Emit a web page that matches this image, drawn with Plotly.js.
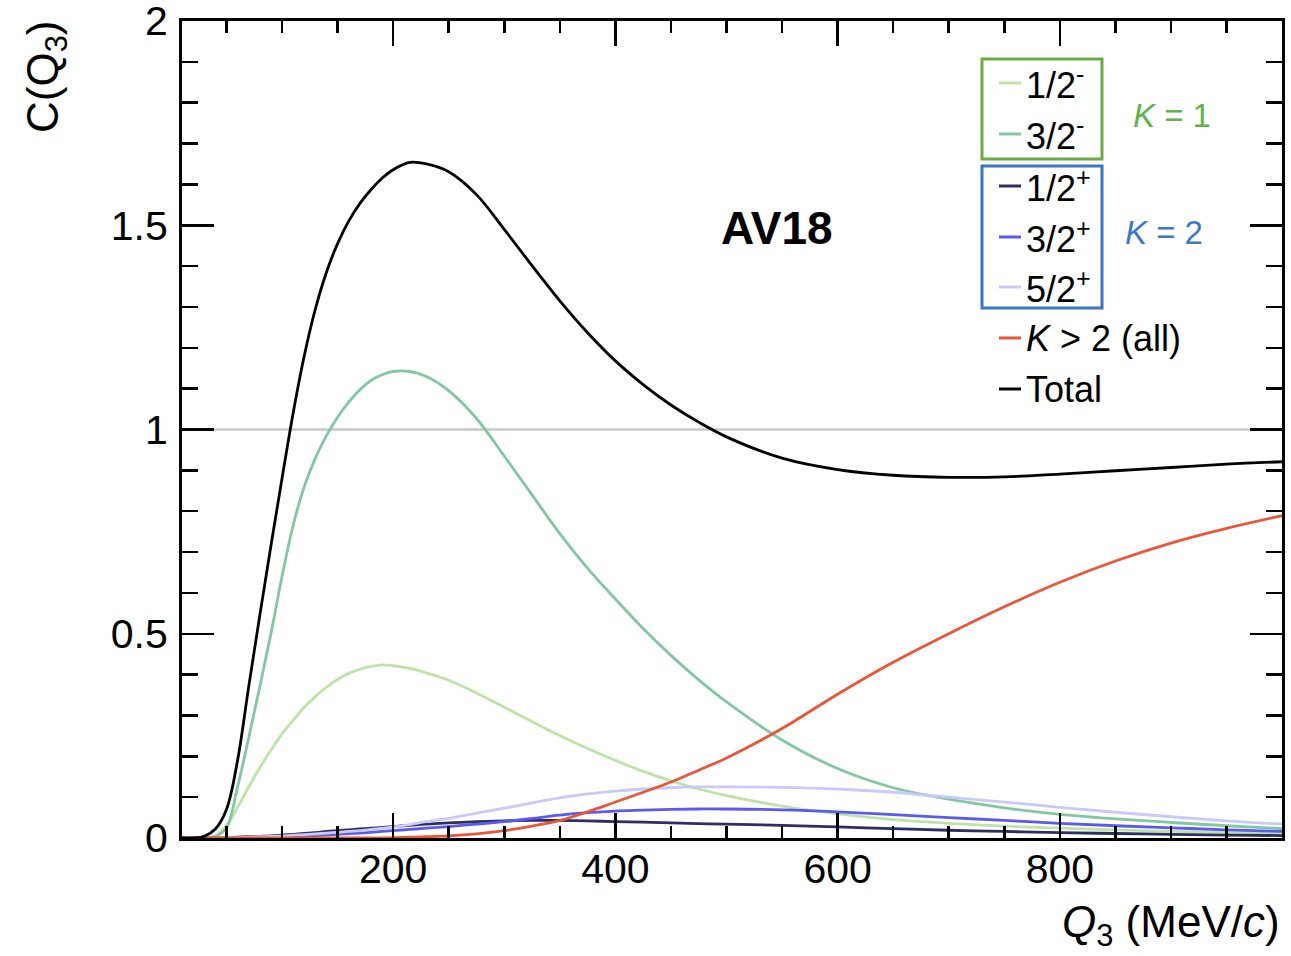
<!DOCTYPE html>
<html>
<head>
<meta charset="utf-8">
<script src="https://cdn.plot.ly/plotly-3.0.1.min.js"></script>
<style>html,body{margin:0;padding:0;background:#fff;}</style>
</head>
<body>
<div id="chart" style="width:1291px;height:956px;"></div>
<script>
// Q3 grid (MeV/c)
const q3 = [10,20,30,40,50,60,70,80,90,100,110,120,130,140,150,160,170,180,190,200,215,230,250,275,300,325,350,375,400,425,450,475,500,550,600,650,700,750,800,850,900,950,1000];

const half_minus = [0,0,0,0.004,0.03,0.075,0.125,0.172,0.215,0.255,0.288,0.32,0.346,0.369,0.388,0.403,0.413,0.42,0.424,0.422,0.415,0.404,0.386,0.355,0.32,0.285,0.251,0.219,0.19,0.163,0.14,0.12,0.104,0.078,0.059,0.045,0.036,0.029,0.024,0.02,0.016,0.013,0.011];

const threehalf_minus = [0,0,0,0.004,0.025,0.125,0.245,0.37,0.5,0.64,0.765,0.86,0.93,0.985,1.03,1.067,1.097,1.12,1.134,1.142,1.142,1.13,1.095,1.027,0.935,0.84,0.745,0.66,0.585,0.513,0.447,0.387,0.333,0.24,0.17,0.123,0.095,0.074,0.058,0.047,0.038,0.03,0.023];

const half_plus = [0,0,0,0,0.001,0.002,0.003,0.004,0.005,0.007,0.009,0.011,0.013,0.016,0.018,0.02,0.022,0.024,0.026,0.028,0.031,0.034,0.037,0.04,0.042,0.043,0.043,0.042,0.04,0.039,0.037,0.035,0.034,0.031,0.027,0.023,0.019,0.016,0.013,0.011,0.009,0.007,0.006];

const threehalf_plus = [0,0,0,0,0,0.001,0.001,0.002,0.002,0.003,0.004,0.005,0.006,0.008,0.009,0.011,0.012,0.014,0.016,0.018,0.021,0.024,0.028,0.034,0.04,0.048,0.056,0.062,0.066,0.068,0.07,0.071,0.071,0.069,0.064,0.057,0.05,0.043,0.036,0.03,0.025,0.02,0.016];

const fivehalf_plus = [0,0,0,0,0.001,0.001,0.002,0.003,0.004,0.005,0.007,0.008,0.01,0.012,0.014,0.016,0.018,0.021,0.024,0.027,0.033,0.04,0.048,0.061,0.073,0.086,0.098,0.108,0.115,0.12,0.123,0.125,0.125,0.124,0.12,0.112,0.1,0.088,0.075,0.063,0.052,0.042,0.034];

const k_gt2 = [0,0,0,0,0,0,0,0,0,0,0,0,0,0,0,0,0,0,0,0.001,0.002,0.003,0.005,0.01,0.018,0.029,0.043,0.064,0.088,0.112,0.137,0.166,0.196,0.268,0.352,0.43,0.5,0.566,0.626,0.678,0.722,0.758,0.789];

const total = [0,0,0.004,0.022,0.07,0.19,0.37,0.545,0.715,0.88,1.04,1.18,1.295,1.385,1.455,1.51,1.553,1.587,1.615,1.636,1.654,1.65,1.631,1.575,1.49,1.401,1.315,1.237,1.168,1.11,1.06,1.018,0.982,0.93,0.902,0.888,0.883,0.884,0.891,0.899,0.907,0.915,0.921];

const seriesNames = ['1/2<sup>-</sup>','3/2<sup>-</sup>','1/2<sup>+</sup>','3/2<sup>+</sup>','5/2<sup>+</sup>','<i>K</i> > 2 (all)','Total'];
const seriesData = [half_minus, threehalf_minus, half_plus, threehalf_plus, fivehalf_plus, k_gt2, total];
const seriesColors = ['#bde4a6','#83c7a2','#2e2e62','#5a5af2','#c9c9fa','#ea5638','#000000'];

const xTickStep = 200, xMinor = 50, yTickStep = 0.5, yMinor = 0.1;

const traces = seriesData.map((d,i)=>({
  x: q3, y: d, type:'scatter', mode:'lines', name: seriesNames[i],
  line:{color: seriesColors[i], width: 2.8, shape:'spline', smoothing:1},
  hoverinfo:'skip'
}));

// plot area pixel geometry (for paper-coordinate placement of legend items)
const L=182, R=9, T=21, B=118, W=1291, H=956;
const pw = W-L-R, ph = H-T-B;
const px2x = p => (p - L)/pw;
const py2y = p => (H - B - p)/ph;

const legendY = [83, 134, 186, 237, 287, 338, 389];
const annotations = [];
const shapes = [];

// reference line at C = 1
shapes.push({type:'line', xref:'paper', x0:0, x1:1, yref:'y', y0:1, y1:1, line:{color:'#c8c8c8', width:2.5}, layer:'below'});

seriesNames.forEach((n,i)=>{
  shapes.push({type:'line', xref:'paper', yref:'paper', x0:px2x(999), x1:px2x(1021), y0:py2y(legendY[i]), y1:py2y(legendY[i]), line:{color:seriesColors[i], width:3}});
  annotations.push({xref:'paper', yref:'paper', x:px2x(1024), y:py2y(legendY[i]), xanchor:'left', yanchor:'middle', text:n, showarrow:false, font:{size:36, color:'black', family:'Liberation Sans, Arial, sans-serif'}});
});

// group boxes
shapes.push({type:'rect', xref:'paper', yref:'paper', x0:px2x(982), x1:px2x(1102), y0:py2y(159), y1:py2y(59), line:{color:'#6aab45', width:3}});
shapes.push({type:'rect', xref:'paper', yref:'paper', x0:px2x(982), x1:px2x(1102), y0:py2y(308), y1:py2y(166), line:{color:'#3a76c4', width:3}});

annotations.push({xref:'paper', yref:'paper', x:px2x(1172), y:py2y(116), xanchor:'center', yanchor:'middle', text:'<i>K</i> = 1', showarrow:false, font:{size:33, color:'#5cb548'}});
annotations.push({xref:'paper', yref:'paper', x:px2x(1164), y:py2y(233), xanchor:'center', yanchor:'middle', text:'<i>K</i> = 2', showarrow:false, font:{size:33, color:'#3a78c8'}});

annotations.push({xref:'paper', yref:'paper', x:px2x(777), y:py2y(228), xanchor:'center', yanchor:'middle', text:'<b>AV18</b>', showarrow:false, font:{size:46, color:'black'}});

// axis titles
annotations.push({xref:'paper', yref:'paper', x:px2x(1282), y:py2y(925), xanchor:'right', yanchor:'middle', text:'<i>Q</i><sub>3</sub> (MeV/<i>c</i>)', showarrow:false, font:{size:44, color:'black'}});
annotations.push({xref:'paper', yref:'paper', x:px2x(46), y:py2y(19), xanchor:'center', yanchor:'top', textangle:-90, text:'C(Q<sub>3</sub>)', showarrow:false, font:{size:44, color:'black'}});

const layout = {
  width:W, height:H,
  margin:{l:L, r:R, t:T, b:B, pad:0},
  paper_bgcolor:'#ffffff', plot_bgcolor:'#ffffff',
  showlegend:false,
  font:{family:'Liberation Sans, Arial, sans-serif', color:'black'},
  xaxis:{
    range:[10, 999.9], tickmode:'linear', tick0:0, dtick:xTickStep,
    ticks:'inside', ticklen:25, tickwidth:2.5, tickcolor:'black',
    showline:true, linewidth:3, linecolor:'black', mirror:'allticks',
    showgrid:false, zeroline:false, ticklabeloverflow:'allow',
    tickfont:{size:41, color:'black'}, ticklabelstandoff:-7,
    minor:{tick0:0, dtick:xMinor, ticks:'inside', ticklen:12, tickwidth:2.5, tickcolor:'black', showgrid:false}
  },
  yaxis:{
    range:[0,2], tickmode:'linear', tick0:0, dtick:yTickStep,
    ticks:'inside', ticklen:32, tickwidth:2.5, tickcolor:'black',
    showline:true, linewidth:3, linecolor:'black', mirror:'allticks',
    showgrid:false, zeroline:false, ticklabeloverflow:'allow',
    tickfont:{size:41, color:'black'}, ticklabelstandoff:3,
    minor:{tick0:0, dtick:yMinor, ticks:'inside', ticklen:16, tickwidth:2.5, tickcolor:'black', showgrid:false}
  },
  shapes: shapes,
  annotations: annotations
};

Plotly.newPlot('chart', traces, layout, {staticPlot:true, displayModeBar:false});
</script>
</body>
</html>
